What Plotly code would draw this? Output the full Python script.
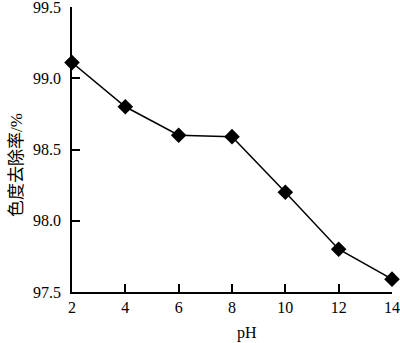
import plotly.graph_objects as go

ph = [2, 4, 6, 8, 10, 12, 14]
removal = [99.11, 98.80, 98.60, 98.59, 98.20, 97.80, 97.59]
x_ticks = [2, 4, 6, 8, 10, 12, 14]
y_ticks = [97.5, 98.0, 98.5, 99.0, 99.5]
y_tick_labels = ["97.5", "98.0", "98.5", "99.0", "99.5"]

font_fam = "Liberation Serif, Times New Roman, Noto Sans CJK SC, serif"

fig = go.Figure()
fig.add_trace(go.Scatter(
    x=ph, y=removal, mode="lines+markers",
    line=dict(color="black", width=1.5),
    marker=dict(symbol="diamond", size=12, color="black"),
    cliponaxis=False,
    showlegend=False,
))

W, H = 400, 343
L, R, T, B = 72, 8, 7, 51
pw, ph_ = W - L - R, H - T - B


def px_x(x):
    return (x - L) / pw


def px_y(y):
    return (H - B - y) / ph_


fig.update_layout(
    width=W, height=H,
    margin=dict(l=L, r=R, t=T, b=B, autoexpand=False),
    paper_bgcolor="white", plot_bgcolor="white",
    font=dict(family=font_fam, size=16, color="black"),
    xaxis=dict(
        range=[2, 14], tickvals=x_ticks, ticks="inside", ticklen=8,
        tickwidth=1.5, tickcolor="black", showline=True, linecolor="black",
        linewidth=1.5, showgrid=False, zeroline=False,
        tickfont=dict(family=font_fam, size=16),
        ticklabeloverflow="allow", ticklabelstandoff=0,
    ),
    yaxis=dict(
        range=[97.5, 99.5], tickvals=y_ticks, ticktext=y_tick_labels,
        ticks="inside", ticklen=8, tickwidth=1.5, tickcolor="black",
        showline=True, linecolor="black", linewidth=1.5, showgrid=False,
        zeroline=False, tickfont=dict(family=font_fam, size=16),
        ticklabeloverflow="allow", ticklabelstandoff=6,
    ),
    annotations=[
        dict(
            text="色度去除率/%", xref="paper", yref="paper",
            x=px_x(17), y=px_y(165), xanchor="center", yanchor="middle",
            textangle=-90, showarrow=False,
            font=dict(family=font_fam, size=17),
        ),
        dict(
            text="pH", xref="paper", yref="paper",
            x=px_x(247), y=px_y(333), xanchor="center", yanchor="middle",
            showarrow=False, font=dict(family=font_fam, size=16),
        ),
    ],
)

fig.write_html(
    "out.html",
    config={"displayModeBar": False},
    post_script="document.body.style.margin='0px';document.body.style.overflow='hidden';",
)
